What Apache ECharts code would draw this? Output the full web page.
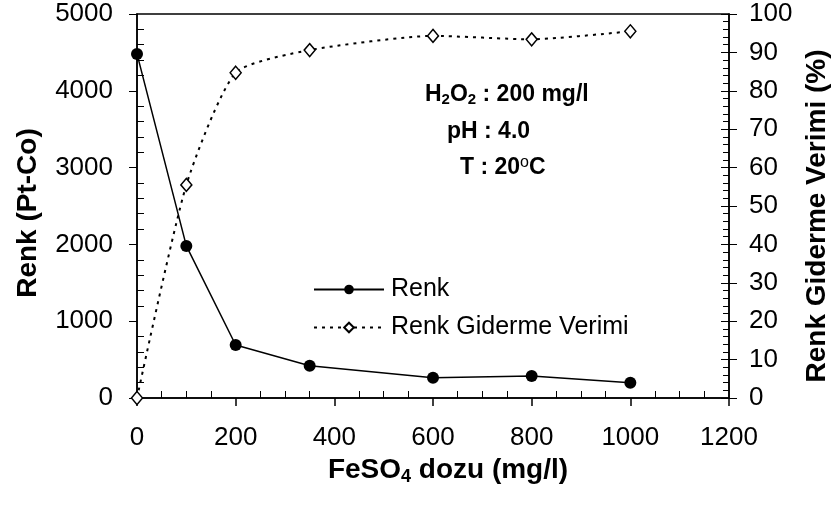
<!DOCTYPE html>
<html>
<head>
<meta charset="utf-8">
<script src="https://cdn.jsdelivr.net/npm/echarts@6/dist/echarts.min.js"></script>
<style>
html, body { margin: 0; padding: 0; background: #fff; }
#chart { width: 832px; height: 506px; }
</style>
</head>
<body>
<div id="chart"></div>
<script>
// FeSO4 dozu (mg/l)
var doses = [0, 100, 200, 350, 600, 800, 1000];
// Renk (Pt-Co)
var renk = [4480, 1980, 690, 420, 265, 285, 200];
// Renk Giderme Verimi (%)
var verimi = [0, 55.5, 84.7, 90.6, 94.3, 93.4, 95.5];

var FONT = 'Liberation Sans, Arial, sans-serif';

function pairs(xs, ys) {
  var out = [];
  for (var i = 0; i < xs.length; i++) out.push([xs[i], ys[i]]);
  return out;
}

var chart = echarts.init(document.getElementById('chart'));

var tickLabel = { color: '#000', fontSize: 26, fontFamily: FONT, formatter: function (v) { return String(v); } };
var axLine = { show: true, lineStyle: { color: '#000', width: 1.5 } };

chart.setOption({
  animation: false,
  backgroundColor: '#fff',
  grid: {
    left: 137, right: 103, top: 14, bottom: 108,
    outerBoundsMode: 'none',
    containLabel: false,
    show: true, borderColor: '#000', borderWidth: 1.5
  },
  legend: {
    orient: 'vertical',
    left: 308, top: 272,
    itemWidth: 70, itemHeight: 12,
    itemGap: 13,
    textStyle: { color: '#000', fontSize: 25, fontFamily: FONT, padding: [0, 0, 0, 2] },
    data: ['Renk', 'Renk Giderme Verimi']
  },
  xAxis: [
    {
      type: 'value', position: 'bottom',
      min: 0, max: 1200, interval: 200,
      axisLine: axLine,
      axisTick: { show: true, inside: false, length: 8, lineStyle: { color: '#000', width: 1.5 } },
      axisLabel: Object.assign({ margin: 27 }, tickLabel),
      splitLine: { show: false },
      name: '{b|FeSO}{s|4}{b| dozu (mg/l)}',
      nameLocation: 'middle', nameGap: 45,
      nameTextStyle: {
        padding: [0, 0, 0, 30],
        rich: {
          b: { fontSize: 28, fontWeight: 'bold', fontFamily: FONT, color: '#000', lineHeight: 32 },
          s: { fontSize: 18, fontWeight: 'bold', fontFamily: FONT, color: '#000', verticalAlign: 'bottom', lineHeight: 22 }
        }
      }
    },
    {
      type: 'value', position: 'bottom',
      min: 0, max: 1200, interval: 200,
      axisLine: { show: false },
      axisTick: { show: false, inside: true },
      minorTick: { show: true, splitNumber: 4, length: 7, lineStyle: { color: '#000', width: 1 } },
      axisLabel: { show: false },
      splitLine: { show: false }
    }
  ],
  yAxis: [
    {
      type: 'value', position: 'left',
      min: 0, max: 5000, interval: 1000,
      axisLine: axLine,
      axisTick: { show: true, inside: false, length: 8, lineStyle: { color: '#000', width: 1 } },
      axisLabel: Object.assign({ margin: 24 }, tickLabel),
      splitLine: { show: false },
      name: 'Renk (Pt-Co)',
      nameLocation: 'middle', nameGap: 95, nameRotate: 90,
      nameTextStyle: { color: '#000', fontSize: 28, fontWeight: 'bold', fontFamily: FONT, padding: [0, 14, 0, 0] }
    },
    {
      type: 'value', position: 'left',
      min: 0, max: 5000, interval: 1000,
      axisLine: { show: false },
      axisTick: { show: false, inside: true },
      minorTick: { show: true, splitNumber: 5, length: 7, lineStyle: { color: '#000', width: 1 } },
      axisLabel: { show: false },
      splitLine: { show: false }
    },
    {
      type: 'value', position: 'right',
      min: 0, max: 100, interval: 10,
      axisLine: axLine,
      axisTick: { show: true, inside: false, length: 8, lineStyle: { color: '#000', width: 1 } },
      axisLabel: Object.assign({ margin: 20 }, tickLabel),
      splitLine: { show: false },
      name: 'Renk Giderme Verimi (%)',
      nameLocation: 'middle', nameGap: 69, nameRotate: 90,
      nameTextStyle: { color: '#000', fontSize: 28, fontWeight: 'bold', fontFamily: FONT, padding: [0, 20, 0, 0] }
    },
    {
      type: 'value', position: 'right',
      min: 0, max: 100, interval: 10,
      axisLine: { show: false },
      axisTick: { show: true, inside: true, length: 8, lineStyle: { color: '#000', width: 1 } },
      minorTick: { show: true, splitNumber: 5, length: 6, lineStyle: { color: '#000', width: 1 } },
      axisLabel: { show: false },
      splitLine: { show: false }
    }
  ],
  graphic: [
    {
      type: 'text', left: 425, top: 83,
      style: {
        text: '{b|H}{s|2}{b|O}{s|2}{b| : 200 mg/l}',
        rich: {
          b: { fontSize: 23, fontWeight: 'bold', fontFamily: FONT, fill: '#000', lineHeight: 26 },
          s: { fontSize: 15, fontWeight: 'bold', fontFamily: FONT, fill: '#000', verticalAlign: 'bottom', lineHeight: 19 }
        }
      }
    },
    {
      type: 'text', left: 447, top: 120,
      style: { text: 'pH : 4.0', fontSize: 23, fontWeight: 'bold', fontFamily: FONT, fill: '#000' }
    },
    {
      type: 'text', left: 460, top: 155,
      style: {
        text: '{b|T : 20}{p|o}{b|C}',
        rich: {
          b: { fontSize: 23, fontWeight: 'bold', fontFamily: FONT, fill: '#000', lineHeight: 26 },
          p: { fontSize: 16, fontFamily: FONT, fill: '#000', verticalAlign: 'top', lineHeight: 14 }
        }
      }
    }
  ],
  series: [
    {
      name: 'Renk',
      type: 'line',
      xAxisIndex: 0, yAxisIndex: 0,
      data: pairs(doses, renk),
      clip: false,
      symbol: 'circle', symbolSize: 12,
      itemStyle: { color: '#000' },
      lineStyle: { color: '#000', width: 1.5, type: 'solid' },
      z: 3
    },
    {
      name: 'Renk Giderme Verimi',
      type: 'line',
      xAxisIndex: 0, yAxisIndex: 2,
      data: pairs(doses, verimi),
      clip: false,
      smooth: 0.2,
      symbol: 'diamond', symbolSize: [11, 13],
      itemStyle: { color: '#fff', borderColor: '#000', borderWidth: 1.5 },
      lineStyle: { color: '#000', width: 2, type: [3, 5] },
      z: 2
    }
  ]
});
</script>
</body>
</html>
